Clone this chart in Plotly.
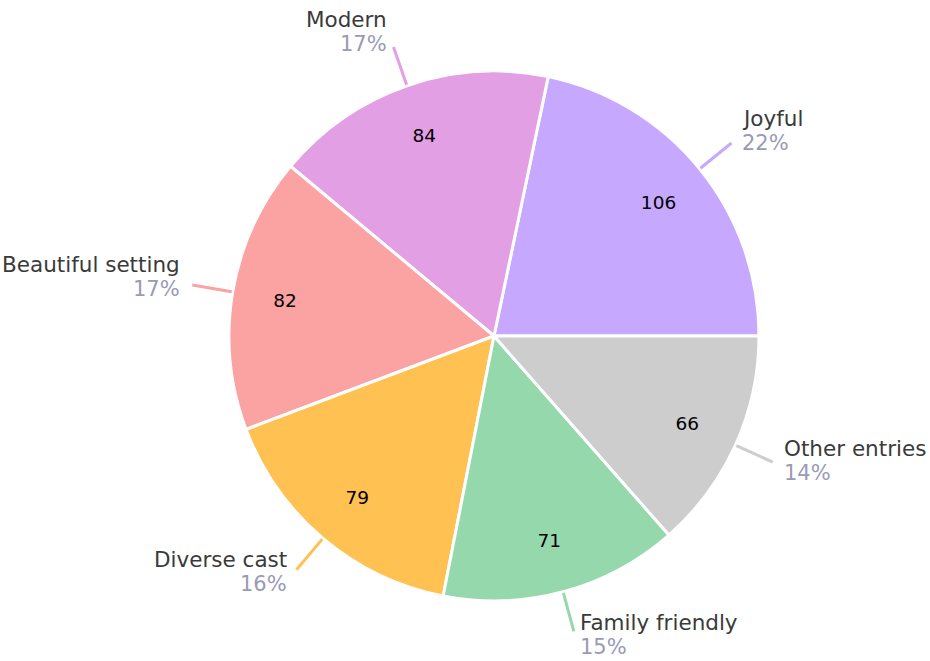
import math
import plotly.graph_objects as go

categories = ["Joyful", "Modern", "Beautiful setting", "Diverse cast", "Family friendly", "Other entries"]
values = [106, 84, 82, 79, 71, 66]
colors = ["#C6A9FF", "#E29FE4", "#FBA3A3", "#FFC152", "#94D8AC", "#CDCDCD"]

W, H = 930, 661
CX, CY, R = 494, 336, 265
FONT = "DejaVu Sans"
NAME_COLOR = "#3a3a3a"
PCT_COLOR = "#9a9ab6"

total = sum(values)
# first slice starts at 3 o'clock and runs counterclockwise
rotation = 90 - 360 * values[0] / total

domain_x = [(CX - R) / W, (CX + R) / W]
domain_y = [1 - (CY + R) / H, 1 - (CY - R) / H]

fig = go.Figure()
fig.add_trace(go.Pie(
    labels=categories, values=values, sort=False, direction="counterclockwise",
    rotation=rotation, marker=dict(colors=colors, line=dict(color="white", width=3)),
    textinfo="none", hoverinfo="label+value+percent", showlegend=False,
    domain=dict(x=domain_x, y=domain_y),
))
# transparent ring to place value labels in the outer part of the slices
fig.add_trace(go.Pie(
    labels=categories, values=values, sort=False, direction="counterclockwise",
    rotation=rotation, hole=0.6,
    marker=dict(colors=["rgba(0,0,0,0)"] * len(values), line=dict(width=0)),
    textinfo="value", textposition="inside", insidetextorientation="horizontal",
    textfont=dict(family=FONT, size=18.5, color="black"),
    hoverinfo="skip", showlegend=False,
    domain=dict(x=domain_x, y=domain_y),
))

shapes, annotations = [], []
cum = 0
for name, v, c in zip(categories, values, colors):
    mid = (cum + v / 2) / total * 2 * math.pi
    cum += v
    ca, sa = math.cos(mid), math.sin(mid)
    x0, y0 = CX + 266 * ca, CY - 266 * sa
    x1, y1 = CX + 306 * ca, CY - 306 * sa
    shapes.append(dict(type="line", xref="paper", yref="paper",
                       x0=x0 / W, y0=1 - y0 / H, x1=x1 / W, y1=1 - y1 / H,
                       line=dict(color=c, width=3)))
    pct = round(v / total * 100)
    right = ca > 0
    tx = x1 + (1 if right else -1) * (2 + 8 * abs(ca))
    pct_y = y1 + (5 if sa > 0 else 8) - 8 * sa
    name_y = pct_y - 24.5
    common = dict(xref="paper", yref="paper", x=tx / W,
                  xanchor="left" if right else "right", yanchor="middle",
                  showarrow=False)
    annotations.append(dict(common, y=1 - name_y / H, text=name,
                            font=dict(family=FONT, size=21.5, color=NAME_COLOR)))
    annotations.append(dict(common, y=1 - pct_y / H, text=f"{pct}%",
                            font=dict(family=FONT, size=21, color=PCT_COLOR)))

fig.update_layout(
    width=W, height=H, margin=dict(l=0, r=0, t=0, b=0),
    paper_bgcolor="white", plot_bgcolor="white",
    shapes=shapes, annotations=annotations,
)
fig.write_html("out.html", config={"displayModeBar": False},
               post_script="document.body.style.margin='0';")
